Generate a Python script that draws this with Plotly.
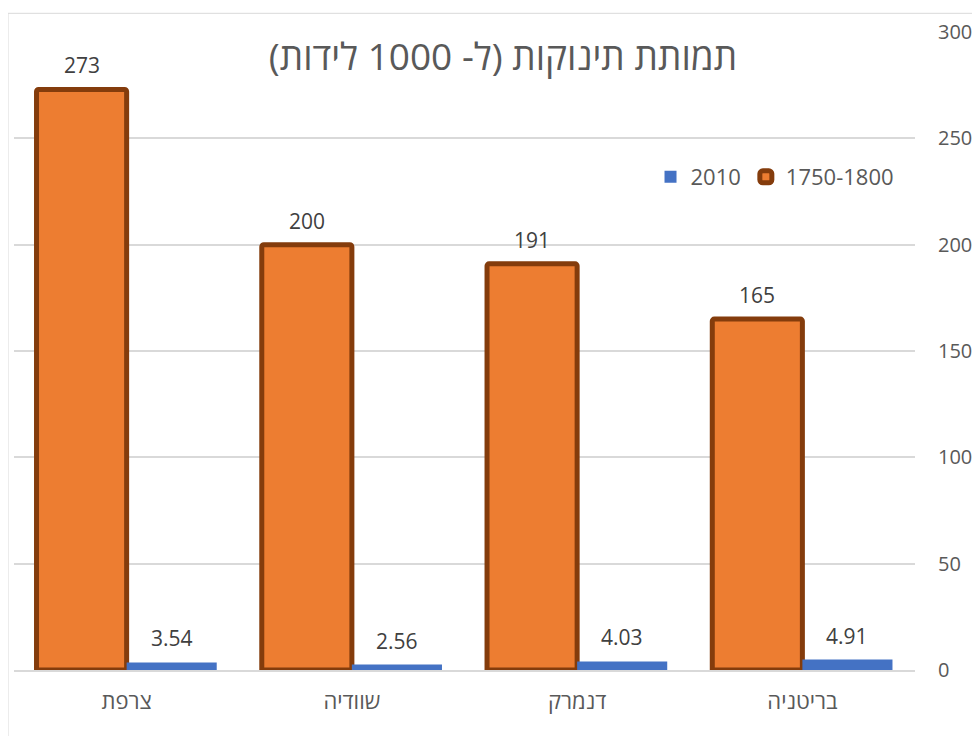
import plotly.graph_objects as go

# ---- data ----
countries = ["צרפת", "שוודיה", "דנמרק", "בריטניה"]
series_old_name = "1750-1800"
series_new_name = "2010"
values_old = [273, 200, 191, 165]
values_new = [3.54, 2.56, 4.03, 4.91]
y_ticks = [0, 50, 100, 150, 200, 250, 300]
title_text = "\u200fתמותת תינוקות (ל- 1000 לידות)\u200f"

# ---- style ----
FONT = "Open Sans, Liberation Sans, DejaVu Sans, sans-serif"
ORANGE = "#ED7D31"
BROWN = "#843C0C"
BLUE = "#4472C4"
GRID = "#D9D9D9"
W, H = 980, 736
OFF = 8  # page offset of the figure (body margin)
ML, MR, MT, MB = 13.5 - OFF, W - 915.5 + OFF, 32 - OFF, H - 670 + OFF
BARGAP = 0.2
plot_w = W - ML - MR
plot_h = H - MT - MB

fig = go.Figure()
fig.add_trace(go.Bar(
    name=series_old_name, x=countries, y=values_old,
    marker=dict(color=ORANGE, line=dict(color=BROWN, width=5), cornerradius=2),
))
fig.add_trace(go.Bar(
    name=series_new_name, x=countries, y=values_new,
    marker=dict(color=BLUE, line=dict(width=0)),
))

# data labels via annotations positioned on the axes
cat_w = plot_w / len(countries)
bar_w = cat_w * (1 - BARGAP) / 2
shift = bar_w / 2
for c, v in zip(countries, values_old):
    fig.add_annotation(x=c, y=v, text=f"{v:g}", showarrow=False, xshift=-shift,
                       yshift=24, yanchor="middle",
                       font=dict(family=FONT, size=21, color="#404040"))
for c, v in zip(countries, values_new):
    fig.add_annotation(x=c, y=v, text=f"{v:.2f}", showarrow=False, xshift=shift,
                       yshift=24, yanchor="middle",
                       font=dict(family=FONT, size=21, color="#404040"))

# chart border (partly cropped by the canvas)
fig.add_shape(type="rect", xref="paper", yref="paper",
              x0=(7.5 - OFF - ML) / plot_w, x1=1.2,
              y0=-0.3, y1=(670 - 13.3) / plot_h,
              line=dict(color=GRID, width=1), fillcolor="rgba(0,0,0,0)", layer="below")

fig.update_layout(
    width=W, height=H,
    margin=dict(l=ML, r=MR, t=MT, b=MB, autoexpand=False),
    paper_bgcolor="white", plot_bgcolor="white",
    barmode="group", bargap=BARGAP, bargroupgap=0,
    font=dict(family=FONT, color="#595959"),
    title=dict(text=title_text, x=(503 - OFF) / W, xref="container", xanchor="center",
               y=1 - (57 - OFF) / H, yref="container", yanchor="middle",
               font=dict(family=FONT, size=37, color="#595959")),
    legend=dict(orientation="h", traceorder="reversed",
                x=(900 - 13.5) / plot_w, xanchor="right",
                y=(670 - 177) / plot_h, yanchor="middle",
                font=dict(family=FONT, size=22, color="#595959"),
                bgcolor="rgba(0,0,0,0)", itemwidth=30),
    showlegend=True,
)
fig.update_xaxes(
    categoryorder="array", categoryarray=countries,
    showgrid=False, showline=True, linecolor=GRID, linewidth=2, layer="above traces",
    ticks="", tickfont=dict(family=FONT, size=22, color="#595959"),
    ticklabelstandoff=11,
)
fig.update_yaxes(
    side="right", range=[0, 300], tickvals=y_ticks,
    showgrid=True, gridcolor=GRID, gridwidth=1.5, zeroline=False,
    ticks="", tickfont=dict(family=FONT, size=20, color="#595959"),
    ticklabelstandoff=22,
)

fig.write_html("out.html")
